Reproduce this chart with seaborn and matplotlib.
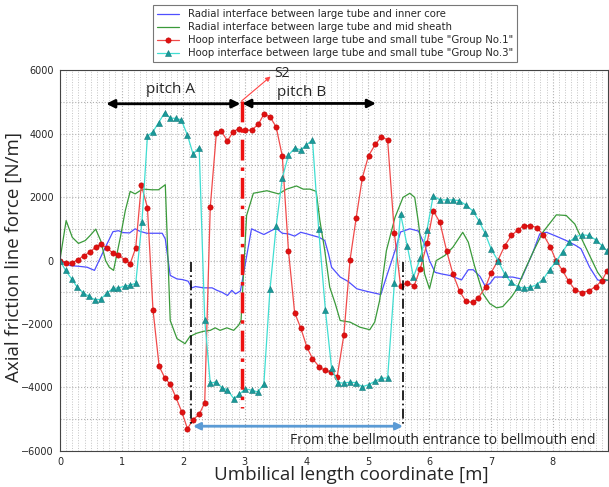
import numpy as np
import pandas as pd
import matplotlib
matplotlib.use('Agg')
import matplotlib.pyplot as plt
from matplotlib.ticker import MultipleLocator
import seaborn as sns

# ---- data ----
red_x = [0, 0.1, 0.19, 0.29, 0.39, 0.48, 0.58, 0.67, 0.77, 0.86,
         0.95, 1.05, 1.14, 1.23, 1.32, 1.42, 1.51, 1.61, 1.70, 1.79,
         1.88, 1.98, 2.07, 2.16, 2.26, 2.35, 2.44, 2.54, 2.62, 2.72,
         2.81, 2.91, 3.01, 3.11, 3.22, 3.31, 3.41, 3.51, 3.61, 3.71,
         3.81, 3.91, 4.01, 4.10, 4.21, 4.30, 4.40, 4.50, 4.61, 4.71,
         4.81, 4.91, 5.01, 5.12, 5.22, 5.32, 5.43, 5.53, 5.64, 5.75,
         5.85, 5.96, 6.06, 6.17, 6.28, 6.38, 6.49, 6.59, 6.70, 6.79,
         6.91, 7.0, 7.11, 7.22, 7.33, 7.44, 7.53, 7.64, 7.74, 7.85,
         7.96, 8.06, 8.16, 8.26, 8.37, 8.48, 8.59, 8.70, 8.80, 8.88]
red_y = [0, -70, -80, 30, 150, 260, 420, 510, 390, 230,
         170, 30, -95, 400, 2380, 1670, -1550, -3330, -3690, -3900,
         -4300, -4780, -5300, -5010, -4850, -4480, 1680, 4030, 4070, 3770,
         4060, 4160, 4110, 4110, 4290, 4610, 4530, 4210, 3290, 310,
         -1640, -2130, -2730, -3090, -3350, -3460, -3510, -3670, -2340, 20,
         1350, 2610, 3300, 3660, 3900, 3800, 860, -800, -700, -800,
         -260, 540, 1570, 1200, 290, -420, -970, -1280, -1320, -1190,
         -830, -390, 0, 460, 790, 970, 1100, 1100, 1040, 810,
         440, -30, -310, -650, -940, -1010, -950, -820, -630, -340]

cyan_x = [0, 0.09, 0.19, 0.28, 0.38, 0.47, 0.57, 0.66, 0.76, 0.86,
          0.95, 1.05, 1.14, 1.23, 1.33, 1.42, 1.51, 1.60, 1.70, 1.79,
          1.88, 1.97, 2.07, 2.16, 2.26, 2.35, 2.44, 2.54, 2.63, 2.72,
          2.82, 2.91, 3.01, 3.12, 3.21, 3.31, 3.41, 3.51, 3.61, 3.71,
          3.81, 3.91, 4.0, 4.10, 4.20, 4.31, 4.41, 4.51, 4.61, 4.71,
          4.81, 4.91, 5.01, 5.12, 5.22, 5.32, 5.43, 5.53, 5.64, 5.74,
          5.85, 5.96, 6.06, 6.17, 6.28, 6.38, 6.48, 6.59, 6.70, 6.80,
          6.90, 7.0, 7.11, 7.22, 7.32, 7.43, 7.53, 7.64, 7.74, 7.85,
          7.95, 8.06, 8.16, 8.27, 8.37, 8.48, 8.59, 8.70, 8.80, 8.89]
cyan_y = [0, -310, -580, -840, -1020, -1130, -1240, -1220, -1030, -880,
          -860, -810, -770, -720, 1200, 3920, 4060, 4340, 4660, 4490,
          4480, 4430, 3950, 3360, 3560, -1860, -3860, -3830, -4010, -4070,
          -4350, -4220, -4040, -4090, -4140, -3900, -910, 1080, 2600, 3320,
          3540, 3490, 3640, 3800, 1000, -1570, -3390, -3850, -3860, -3830,
          -3850, -3980, -3910, -3800, -3710, -3700, -710, 1470, 450, -520,
          70, 970, 2040, 1910, 1910, 1910, 1890, 1750, 1570, 1260,
          870, 370, 0, -420, -680, -820, -870, -840, -760, -580,
          -290, -20, 280, 580, 750, 810, 790, 650, 470, 290]

blue_x = [0.0, 0.07, 0.17, 0.30, 0.44, 0.56, 0.71, 0.86,
          0.95, 1.03, 1.13, 1.22, 1.30, 1.41, 1.55, 1.66, 1.71, 1.79,
          1.90, 1.99, 2.08, 2.14, 2.20, 2.33, 2.47, 2.55, 2.63, 2.72,
          2.79, 2.85, 2.93, 3.11, 3.31, 3.51, 3.61, 3.71, 3.81, 3.91,
          4.01, 4.10, 4.21, 4.30, 4.36, 4.41, 4.55, 4.68, 4.82, 4.98,
          5.21, 5.30, 5.44, 5.53, 5.68, 5.82, 5.92, 6.00, 6.09, 6.19,
          6.33, 6.52, 6.63, 6.71, 6.82, 6.90, 6.98, 7.06, 7.19, 7.35,
          7.49, 7.68, 7.79, 7.90, 8.03, 8.22, 8.38, 8.46, 8.60, 8.73,
          8.83, 8.89]
blue_y = [30, -70, -160, -180, -210, -310, 310, 910,
          940, 880, 870, 1000, 920, 860, 860, 860, 680, -470,
          -580, -600, -650, -860, -820, -860, -860, -940, -1000, -1100,
          -940, -1050, -960, 1000, 820, 1020, 860, 840, 770, 890,
          840, 790, 730, 630, 210, -210, -520, -660, -890, -970,
          -1070, -520, 310, 900, 1000, 930, 500, 0, -370, -420,
          -470, -610, -290, -290, -500, -790, -730, -520, -520, -520,
          -580, 260, 840, 890, 790, 630, 470, 370, -210, -610,
          -650, -620]

green_x = [0.0, 0.10, 0.20, 0.30, 0.41, 0.49, 0.58, 0.66, 0.74, 0.80,
           0.87, 0.98, 1.06, 1.14, 1.22, 1.30, 1.36, 1.49, 1.60, 1.71,
           1.79, 1.90, 2.03, 2.11, 2.22, 2.33, 2.44, 2.52, 2.60, 2.71,
           2.82, 2.90, 2.94, 3.03, 3.14, 3.36, 3.55, 3.68, 3.84, 3.95,
           4.06, 4.16, 4.22, 4.30, 4.38, 4.47, 4.55, 4.71, 4.87, 5.03,
           5.11, 5.19, 5.30, 5.44, 5.57, 5.68, 5.76, 5.82, 5.92, 6.00,
           6.11, 6.25, 6.38, 6.54, 6.63, 6.73, 6.87, 6.98, 7.09, 7.19,
           7.33, 7.41, 7.52, 7.68, 7.84, 8.06, 8.22, 8.36, 8.46, 8.60,
           8.73, 8.81, 8.89]
green_y = [30, 1260, 730, 540, 630, 790, 990, 630, 0, -210,
           -310, 730, 1570, 2180, 2100, 2200, 2250, 2230, 2230, 2390,
           -1890, -2460, -2620, -2390, -2290, -2230, -2200, -2120, -2200, -2120,
           -2200, -2040, -1890, 1420, 2120, 2200, 2100, 2250, 2350, 2250,
           2250, 2180, 1260, 310, -840, -1360, -1890, -1940, -2100, -2180,
           -1940, -1260, 310, 1360, 1990, 2120, 1990, 1200, -420, -890,
           0, 160, 420, 890, 580, -160, -1050, -1360, -1490, -1450,
           -1150, -920, -420, 260, 890, 1440, 1420, 1150, 730, 160,
           -370, -580, -620]

labels = ['Radial interface between large tube and inner core',
          'Radial interface between large tube and mid sheath',
          'Hoop interface between large tube and small tube "Group No.1"',
          'Hoop interface between large tube and small tube "Group No.3"']

# annotation positions (data units)
pitch_a = (0.75, 2.93)
pitch_b = (2.96, 5.13)
s2_x = 2.95
bell_start, bell_end = 2.13, 5.57

sns.set_style('white')
plt.rcParams['font.family'] = ['DejaVu Sans']

fig = plt.figure(figsize=(6.09, 4.87), dpi=100)
ax = fig.add_axes([0.0985, 0.074, 0.900, 0.782])

sns.lineplot(x=blue_x, y=blue_y, ax=ax, color='#4f4fff', lw=0.9, sort=False, label=labels[0])
sns.lineplot(x=green_x, y=green_y, ax=ax, color='#3a9a3a', lw=0.9, sort=False, label=labels[1])
sns.lineplot(x=red_x, y=red_y, ax=ax, color='#f04a4a', lw=0.9, sort=False,
             marker='o', markersize=3.8, markerfacecolor='#e01010',
             markeredgecolor='#c00000', markeredgewidth=0.4, label=labels[2])
sns.lineplot(x=cyan_x, y=cyan_y, ax=ax, color='#40ded2', lw=0.9, sort=False,
             marker='^', markersize=3.8, markerfacecolor='#1a9a9a',
             markeredgecolor='#127a7a', markeredgewidth=0.4, label=labels[3])

ax.set_xlim(0, 8.9)
ax.set_ylim(-6000, 6000)
ax.xaxis.set_major_locator(MultipleLocator(1))
ax.xaxis.set_minor_locator(MultipleLocator(0.1))
ax.yaxis.set_major_locator(MultipleLocator(2000))
ax.yaxis.set_minor_locator(MultipleLocator(1000))
ax.grid(which='major', axis='both', color='#b0b0b0', linestyle=':', linewidth=0.8)
ax.grid(which='minor', axis='x', color='#c4c4c4', linestyle=':', linewidth=0.7)
ax.grid(which='minor', axis='y', color='#b0b0b0', linestyle=':', linewidth=0.8)
ax.tick_params(which='major', labelsize=7, length=3, color='#333333', direction='out', pad=1.5)
ax.tick_params(which='minor', length=1.5, color='#333333')
for sp in ax.spines.values():
    sp.set_color('#444444')
    sp.set_linewidth(0.8)

ax.set_xlabel('Umbilical length coordinate [m]', family='Open Sans', fontsize=13.5)
ax.set_ylabel('Axial friction line force [N/m]', family='Open Sans', fontsize=13.5)
ax.xaxis.set_label_coords(0.532, -0.04)
ax.yaxis.set_label_coords(-0.068, 0.51)

# pitch arrows
ax.annotate('', xy=(pitch_a[0], 4940), xytext=(pitch_a[1], 4940),
            arrowprops=dict(arrowstyle='<|-|>', color='black', lw=2, mutation_scale=12,
                            shrinkA=0, shrinkB=0))
ax.annotate('', xy=(pitch_b[0], 4950), xytext=(pitch_b[1], 4950),
            arrowprops=dict(arrowstyle='<|-|>', color='black', lw=2, mutation_scale=12,
                            shrinkA=0, shrinkB=0))
ax.text(1.79, 5400, 'pitch A', family='Open Sans', fontsize=11, ha='center', va='center')
ax.text(3.93, 5280, 'pitch B', family='Open Sans', fontsize=11, ha='center', va='center')

# S2 marker line
ax.plot([s2_x, s2_x], [5030, -4650], color='#ee1111', lw=2.5, linestyle=(0, (6, 2, 1, 2)))
ax.annotate('', xy=(3.42, 5800), xytext=(s2_x, 5030),
            arrowprops=dict(arrowstyle='-|>', color='#ff4444', lw=0.8, mutation_scale=7,
                            shrinkA=0, shrinkB=0))
ax.text(3.6, 5880, 'S2', family='Open Sans', fontsize=10, ha='center', va='center')

# bellmouth markers
for bx in (bell_start, bell_end):
    ax.plot([bx, bx], [-50, -5200], color='black', lw=1.2, linestyle=(0, (6, 2, 1, 2)))
ax.annotate('', xy=(bell_start + 0.03, -5220), xytext=(bell_end, -5220),
            arrowprops=dict(arrowstyle='<|-|>', color='#5b9bd5', lw=2, mutation_scale=10,
                            shrinkA=0, shrinkB=0))
ax.text(3.74, -5660, 'From the bellmouth entrance to bellmouth end',
        family='Open Sans', fontsize=10, ha='left', va='center')

handles, labs = ax.get_legend_handles_labels()
ax.get_legend().remove()
leg = fig.legend(handles, labs, loc='upper center', bbox_to_anchor=(0.55, 1.0),
                 fontsize=7.3, frameon=True, fancybox=False, edgecolor='#555555',
                 handlelength=2.2, borderpad=0.4, labelspacing=0.3)
leg.get_frame().set_linewidth(0.8)

fig.savefig('out.png', dpi=100)
